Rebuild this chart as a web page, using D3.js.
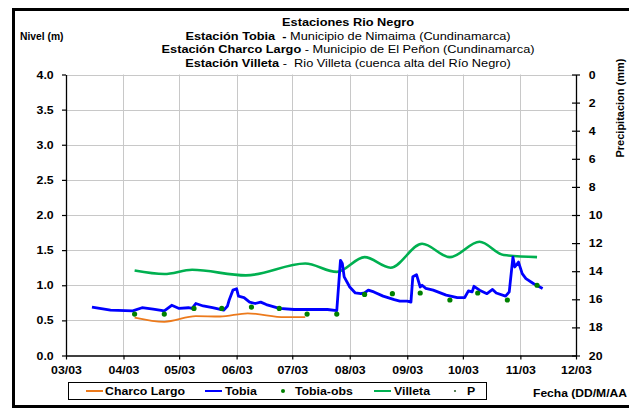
<!DOCTYPE html>
<html>
<head>
<meta charset="utf-8">
<script src="https://cdn.jsdelivr.net/npm/d3@7"></script>
<style>
  body { margin: 0; background: #fff; }
  text { font-family: "Liberation Sans", Arial, sans-serif; }
</style>
</head>
<body>
<svg id="chart"></svg>
<script>
// Series: [date, value]
const charcoLargo = [
    ["2003-04-07", 0.54], ["2003-04-23", 0.48], ["2003-05-10", 0.56], ["2003-05-23", 0.555],
    ["2003-06-07", 0.60], ["2003-06-27", 0.545], ["2003-07-08", 0.545]
];
const tobia = [
    ["2003-03-15", 0.69], ["2003-03-25", 0.645], ["2003-04-06", 0.635], ["2003-04-11", 0.68],
    ["2003-04-17", 0.66], ["2003-04-23", 0.635], ["2003-04-27", 0.715], ["2003-05-01", 0.67],
    ["2003-05-06", 0.68], ["2003-05-08", 0.67], ["2003-05-10", 0.74], ["2003-05-14", 0.705],
    ["2003-05-19", 0.68], ["2003-05-25", 0.645], ["2003-05-27", 0.70], ["2003-05-28", 0.79],
    ["2003-05-30", 0.93], ["2003-06-01", 0.95], ["2003-06-02", 0.845], ["2003-06-05", 0.825],
    ["2003-06-08", 0.76], ["2003-06-11", 0.74], ["2003-06-14", 0.76], ["2003-06-17", 0.725],
    ["2003-06-24", 0.67], ["2003-07-02", 0.655], ["2003-07-12", 0.655], ["2003-07-20", 0.655],
    ["2003-07-25", 0.64], ["2003-07-27", 1.355], ["2003-07-28", 1.31], ["2003-07-29", 1.12],
    ["2003-08-01", 0.975], ["2003-08-04", 0.89], ["2003-08-07", 0.88], ["2003-08-09", 0.89],
    ["2003-08-11", 0.93], ["2003-08-14", 0.905], ["2003-08-19", 0.845], ["2003-08-25", 0.795],
    ["2003-08-28", 0.775], ["2003-09-01", 0.775], ["2003-09-03", 0.76], ["2003-09-04", 1.12],
    ["2003-09-06", 1.15], ["2003-09-08", 0.975], ["2003-09-09", 1.0], ["2003-09-11", 0.955],
    ["2003-09-15", 0.93], ["2003-09-22", 0.86], ["2003-09-28", 0.825], ["2003-10-02", 0.825],
    ["2003-10-04", 0.92], ["2003-10-06", 0.905], ["2003-10-07", 0.985], ["2003-10-10", 0.93],
    ["2003-10-14", 0.88], ["2003-10-17", 0.94], ["2003-10-19", 0.89], ["2003-10-24", 0.845],
    ["2003-10-26", 0.905], ["2003-10-28", 1.40], ["2003-10-29", 1.26], ["2003-10-31", 1.33],
    ["2003-11-02", 1.165], ["2003-11-04", 1.095], ["2003-11-08", 1.025], ["2003-11-13", 0.955]
];
const tobiaObs = [
    ["2003-04-07", 0.59], ["2003-04-23", 0.59], ["2003-05-09", 0.67], ["2003-05-24", 0.67],
    ["2003-06-09", 0.69], ["2003-06-24", 0.67], ["2003-07-09", 0.59], ["2003-07-25", 0.59],
    ["2003-08-09", 0.87], ["2003-08-24", 0.88], ["2003-09-08", 0.89], ["2003-09-24", 0.79],
    ["2003-10-09", 0.89], ["2003-10-25", 0.79], ["2003-11-10", 1.0]
];
const villeta = [
    ["2003-04-07", 1.21], ["2003-04-23", 1.16], ["2003-05-08", 1.22], ["2003-06-06", 1.14],
    ["2003-07-08", 1.31], ["2003-07-25", 1.19], ["2003-08-09", 1.40], ["2003-08-23", 1.25],
    ["2003-09-09", 1.59], ["2003-09-24", 1.40], ["2003-10-10", 1.62], ["2003-10-23", 1.43],
    ["2003-11-10", 1.40]
];
const precip = []; // P: no visible points
const monthTicks = ["2003-03-01", "2003-04-01", "2003-05-01", "2003-06-01", "2003-07-01",
                    "2003-08-01", "2003-09-01", "2003-10-01", "2003-11-01", "2003-12-01"];
const levelTicks = [0, 0.5, 1, 1.5, 2, 2.5, 3, 3.5, 4];
const rainTicks = [0, 2, 4, 6, 8, 10, 12, 14, 16, 18, 20];

const W = 629, H = 409;
const SX = 1.12; // the original text is a little wider than it is tall
const parse = d3.timeParse("%Y-%m-%d");
const toPts = arr => arr.map(d => [parse(d[0]), d[1]]);

const svg = d3.select("#chart").attr("width", W).attr("height", H);
svg.append("rect").attr("width", W).attr("height", H).attr("fill", "#fff");

// Outer frame (runs past the right edge)
svg.append("rect")
    .attr("x", 13.5).attr("y", 9.5).attr("width", 700).attr("height", 397)
    .attr("fill", "none").attr("stroke", "#000").attr("stroke-width", 3);

let x = d3.scaleTime().domain([parse("2003-03-01"), parse("2003-12-01")]).range([66, 576]);
let y = d3.scaleLinear().domain([0, 4]).range([355.5, 74.5]);
let yR = d3.scaleLinear().domain([0, 20]).range([74.5, 355.5]);

// Grid
svg.append("g").selectAll("line")
    .data(levelTicks.slice(1))
    .join("line")
        .attr("x1", 66).attr("x2", 576)
        .attr("y1", d => Math.round(y(d)) + 0.5).attr("y2", d => Math.round(y(d)) + 0.5)
        .style("stroke", "#c8c8c8").style("stroke-width", "1px");
svg.append("g").selectAll("line")
    .data(monthTicks.slice(1, -1).map(parse))
    .join("line")
        .attr("x1", d => Math.round(x(d)) + 0.5).attr("x2", d => Math.round(x(d)) + 0.5)
        .attr("y1", 74.5).attr("y2", 355.5)
        .style("stroke", "#c8c8c8").style("stroke-width", "1px");

// Axes
function styleAxis (g) {
    g.select(".domain").attr("stroke", "#000").attr("stroke-width", 1.3);
    g.selectAll(".tick line").attr("stroke", "#000").attr("stroke-width", 1.2);
    g.selectAll(".tick text")
        .style("font-size", "11px").style("font-weight", "bold").attr("fill", "#000")
        .attr("transform", "scale(" + SX + ",1)");
}
svg.append("g")
    .attr("transform", "translate(66,0)")
    .call(d3.axisLeft(y).tickValues(levelTicks).tickFormat(d3.format(".1f")).tickSize(4).tickSizeOuter(0).tickPadding(7))
    .call(styleAxis);
svg.append("g")
    .attr("transform", "translate(0,355.5)")
    .call(d3.axisBottom(x).tickValues(monthTicks.map(parse)).tickFormat(d3.timeFormat("%m/%y")).tickSize(4).tickSizeOuter(0).tickPadding(7))
    .call(styleAxis);
let gR = svg.append("g")
    .attr("transform", "translate(576,0)")
    .call(d3.axisRight(yR).tickValues(rainTicks).tickSize(4).tickSizeOuter(0).tickPadding(7.5))
    .call(styleAxis);
gR.selectAll(".tick line").attr("x1", -4);

// Series
let line = d3.line().x(d => x(d[0])).y(d => y(d[1]));
let smooth = d3.line().x(d => x(d[0])).y(d => y(d[1])).curve(d3.curveMonotoneX);
svg.append("path").datum(toPts(charcoLargo))
    .attr("d", smooth).attr("fill", "none")
    .attr("stroke", "#ec7a1c").attr("stroke-width", 1.8);
svg.append("path").datum(toPts(villeta))
    .attr("d", smooth).attr("fill", "none")
    .attr("stroke", "#00b050").attr("stroke-width", 2.6);
svg.append("path").datum(toPts(tobia))
    .attr("d", line).attr("fill", "none")
    .attr("stroke", "#0000ff").attr("stroke-width", 2.8).attr("stroke-linejoin", "round");
svg.append("g").selectAll("circle")
    .data(toPts(tobiaObs))
    .join("circle")
        .attr("cx", d => x(d[0])).attr("cy", d => y(d[1])).attr("r", 2.6)
        .attr("fill", "#008000");
svg.append("g").selectAll("circle")
    .data(toPts(precip))
    .join("circle")
        .attr("cx", d => x(d[0])).attr("cy", d => yR(d[1])).attr("r", 1.2)
        .attr("fill", "#336633");

// Titles
let titleLines = [
    [["Estaciones Rio Negro", true]],
    [["Estación Tobia  - ", true], ["Municipio de Nimaima (Cundinamarca)", false]],
    [["Estación Charco Largo", true], [" - Municipio de El Peñon (Cundinamarca)", false]],
    [["Estación Villeta", true], [" -  Rio Villeta (cuenca alta del Río Negro)", false]]
];
titleLines.forEach((parts, i) => {
    let t = svg.append("text")
        .attr("transform", "translate(348," + (26 + i * 13.5) + ") scale(" + SX + ",1)")
        .attr("text-anchor", "middle").style("font-size", "11.4px").attr("fill", "#000")
        .style("white-space", "pre");
    parts.forEach(p => t.append("tspan").text(p[0]).style("font-weight", p[1] ? "bold" : "normal"));
});
svg.append("text").attr("x", 20).attr("y", 40)
    .style("font-size", "10.3px").style("font-weight", "bold").text("Nivel (m)");
svg.append("text")
    .attr("transform", "translate(624,108) rotate(-90)")
    .attr("text-anchor", "middle")
    .style("font-size", "11px").style("font-weight", "bold").text("Precipitacion (mm)");
// The reference cuts this label at the picture's edge
svg.append("text").attr("transform", "translate(533,397) scale(" + SX + ",1)")
    .style("font-size", "10.8px").style("font-weight", "bold").text("Fecha (DD/M/AA");

// Legend
let lg = svg.append("g");
lg.append("rect").attr("x", 68.5).attr("y", 382.5).attr("width", 418).attr("height", 17)
    .attr("fill", "#fff").attr("stroke", "#000").attr("stroke-width", 1);
let legendItems = [
    {name: "Charco Largo", type: "line", color: "#ec7a1c", x: 86, tx: 105},
    {name: "Tobia", type: "line", color: "#0000ff", x: 205, tx: 225},
    {name: "Tobia-obs", type: "dot", color: "#008000", x: 283, tx: 295},
    {name: "Villeta", type: "line", color: "#00b050", x: 374, tx: 394},
    {name: "P", type: "pt", color: "#336633", x: 455, tx: 467}
];
legendItems.forEach(it => {
    if (it.type === "line") {
        lg.append("line").attr("x1", it.x).attr("x2", it.x + 17).attr("y1", 391).attr("y2", 391)
            .attr("stroke", it.color).attr("stroke-width", 2);
    } else {
        lg.append("circle").attr("cx", it.x).attr("cy", 391).attr("r", it.type === "dot" ? 2 : 1.1)
            .attr("fill", it.color);
    }
    lg.append("text").attr("transform", "translate(" + it.tx + ",395) scale(" + SX + ",1)")
        .style("font-size", "11px").style("font-weight", "bold").text(it.name);
});
</script>
</body>
</html>
